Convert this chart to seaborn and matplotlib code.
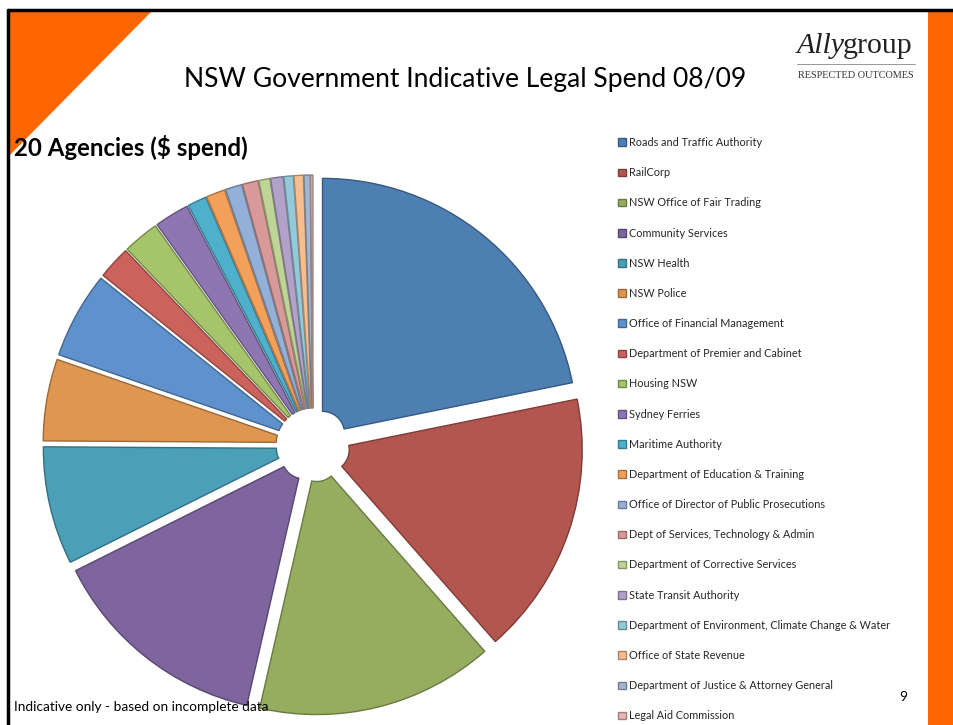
import matplotlib
matplotlib.use("Agg")
import matplotlib.pyplot as plt
import seaborn as sns
from matplotlib.patches import Polygon, Rectangle
from matplotlib.lines import Line2D
import matplotlib.colors as mcolors

# ---------------- data ----------------
agencies = [
    "Roads and Traffic Authority",
    "RailCorp",
    "NSW Office of Fair Trading",
    "Community Services",
    "NSW Health",
    "NSW Police",
    "Office of Financial Management",
    "Department of Premier and Cabinet",
    "Housing NSW",
    "Sydney Ferries",
    "Maritime Authority",
    "Department of Education & Training",
    "Office of Director of Public Prosecutions",
    "Dept of Services, Technology & Admin",
    "Department of Corrective Services",
    "State Transit Authority",
    "Department of Environment, Climate Change & Water",
    "Office of State Revenue",
    "Department of Justice & Attorney General",
    "Legal Aid Commission",
]
spend_share = [21.9, 16.8, 15.1, 14.1, 7.5, 5.2, 5.5, 2.1, 2.3, 2.2,
               1.2, 1.2, 1.05, 1.0, 0.7, 0.8, 0.6, 0.6, 0.4, 0.15]
slice_colors = [
    "#4e7fb3", "#b3564f", "#96ad5f", "#7e659e", "#4b9fb6", "#de9651",
    "#5f91cc", "#cc625c", "#a6c46a", "#8d76b2", "#4fb0cc", "#f3a05a",
    "#93b1d8", "#d89a98", "#bfd497", "#b2a2c9", "#93c9d9", "#f6bd8e",
    "#a3b5cf", "#e4b7b6",
]
title = "NSW Government Indicative Legal Spend 08/09"
subtitle = "20 Agencies ($ spend)"
footnote = "Indicative only - based on incomplete data"
page_no = "9"

# ---------------- figure ----------------
sns.set_style("white")
plt.rcParams["font.family"] = ["Lato", "DejaVu Sans"]

W, H = 954, 725
fig = plt.figure(figsize=(W / 100, H / 100), dpi=100)
fig.patch.set_facecolor("white")
ax = fig.add_axes([0, 0, 1, 1])


def fy(y):
    return H - y


palette = sns.color_palette(slice_colors)
R = 255
wedges, _ = ax.pie(
    spend_share,
    colors=palette,
    startangle=90,
    counterclock=False,
    center=(313, fy(445)),
    radius=R,
    explode=[15] * len(spend_share),
    wedgeprops=dict(width=R - 22, linewidth=1.0),
)
for w, c in zip(wedges, palette):
    w.set_edgecolor(tuple(v * 0.7 for v in mcolors.to_rgb(c)))

ax.set_xlim(0, W)
ax.set_ylim(0, H)
ax.set_aspect("equal", adjustable="box")
ax.axis("off")

# slide decorations
ax.add_patch(Polygon([(9, fy(11)), (152, fy(11)), (9, fy(156))], closed=True,
                     facecolor="#ff6600", edgecolor="none", zorder=0))
ax.add_patch(Rectangle((928, 0), W - 928, fy(12), facecolor="#ff6600",
                       edgecolor="none", zorder=0))
ax.add_line(Line2D([8, W], [fy(10), fy(10)], color="black", lw=2.5))
ax.add_line(Line2D([8, 8], [fy(10), 0], color="black", lw=2.5))

# texts
fig.text(465 / W, 1 - 80 / H, title, ha="center", va="center", fontsize=19.1,
         color="black")
fig.text(14 / W, 1 - 147 / H, subtitle, ha="left", va="center", fontsize=17.3,
         fontweight="bold", color="black")
fig.text(14 / W, 1 - 707 / H, footnote, ha="left", va="center", fontsize=9.8,
         color="black")
fig.text(903 / W, 1 - 697 / H, page_no, ha="center", va="center", fontsize=9.8,
         color="black")

# logo
fig.text(797 / W, 1 - 46 / H, "Ally", ha="left", va="center", fontsize=21.5,
         style="italic", family="Liberation Serif", color="#222222")
fig.text(843 / W, 1 - 46 / H, "group", ha="left", va="center", fontsize=21.5,
         family="Liberation Serif", color="#222222")
ax.add_line(Line2D([797, 915], [fy(64), fy(64)], color="#888888", lw=0.6))
fig.text(856 / W, 1 - 75 / H, "RESPECTED OUTCOMES", ha="center", va="center",
         fontsize=7.4, family="Liberation Serif", color="#333333")

# legend
fig.legend(wedges, agencies, loc="upper left",
           bbox_to_anchor=(618 / W, 1 - 137 / H), frameon=False,
           fontsize=7.8, handlelength=0.7, handleheight=0.7,
           handletextpad=0.35, labelspacing=1.77, borderpad=0,
           borderaxespad=0)

fig.savefig("out.png", dpi=100)
